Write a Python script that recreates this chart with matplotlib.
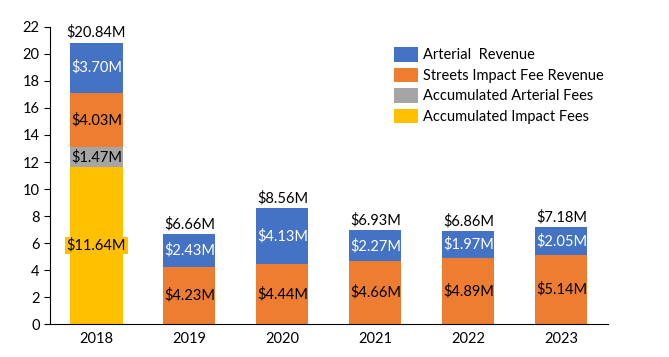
import matplotlib.pyplot as plt
import numpy as np

plt.rcParams['font.family'] = ['Lato', 'DejaVu Sans']

years = ['2018', '2019', '2020', '2021', '2022', '2023']
impact_acc = [11.64, 0, 0, 0, 0, 0]
arterial_acc = [1.47, 0, 0, 0, 0, 0]
streets = [4.03, 4.23, 4.44, 4.66, 4.89, 5.14]
arterial = [3.70, 2.43, 4.13, 2.27, 1.97, 2.05]
totals = [20.84, 6.66, 8.56, 6.93, 6.86, 7.18]

c_blue = '#4472C4'
c_orange = '#ED7D31'
c_gray = '#A5A5A5'
c_yellow = '#FFC000'

fig = plt.figure(figsize=(6.69, 3.57), dpi=100)
ax = fig.add_axes([0.0747, 0.0924, 0.834, 0.832])

x = np.arange(len(years))
w = 0.56
b1 = np.array(impact_acc)
b2 = b1 + np.array(arterial_acc)
b3 = b2 + np.array(streets)

ax.bar(x, impact_acc, w, color=c_yellow, label='Accumulated Impact Fees')
ax.bar(x, arterial_acc, w, bottom=b1, color=c_gray, label='Accumulated Arterial Fees')
ax.bar(x, streets, w, bottom=b2, color=c_orange, label='Streets Impact Fee Revenue')
ax.bar(x, arterial, w, bottom=b3, color=c_blue, label='Arterial  Revenue')

fs = 10.5
for i in range(len(years)):
    if impact_acc[i] > 0:
        ax.text(x[i], impact_acc[i] / 2, f'${impact_acc[i]:.2f}M', ha='center', va='center',
                fontsize=fs, color='black',
                bbox=dict(boxstyle='square,pad=0.1', fc=c_yellow, ec='none'))
    if arterial_acc[i] > 0:
        ax.text(x[i], b1[i] + arterial_acc[i] / 2, f'${arterial_acc[i]:.2f}M', ha='center', va='center',
                fontsize=fs, color='black')
    ax.text(x[i], b2[i] + streets[i] / 2, f'${streets[i]:.2f}M', ha='center', va='center',
            fontsize=fs, color='black')
    ax.text(x[i], b3[i] + arterial[i] / 2, f'${arterial[i]:.2f}M', ha='center', va='center',
            fontsize=fs, color='white')
    ax.text(x[i], totals[i] + 0.2, f'${totals[i]:.2f}M', ha='center', va='bottom',
            fontsize=fs, color='black')

ax.set_xlim(-0.5, 5.5)
ax.set_ylim(0, 22)
ax.set_yticks(range(0, 23, 2))
ax.set_xticks(x)
ax.set_xticklabels(years)
ax.tick_params(axis='x', length=0, labelsize=fs, pad=6)
ax.tick_params(axis='y', labelsize=fs, length=4, direction='out')
ax.spines['top'].set_visible(False)
ax.spines['right'].set_visible(False)

h, l = ax.get_legend_handles_labels()
fig.legend(h[::-1], l[::-1], loc='upper left', bbox_to_anchor=(0.57, 0.905), frameon=False,
           fontsize=fs, handlelength=1.6, handleheight=1.2, labelspacing=0.35, handletextpad=0.35)

fig.savefig('out.png', dpi=100)
